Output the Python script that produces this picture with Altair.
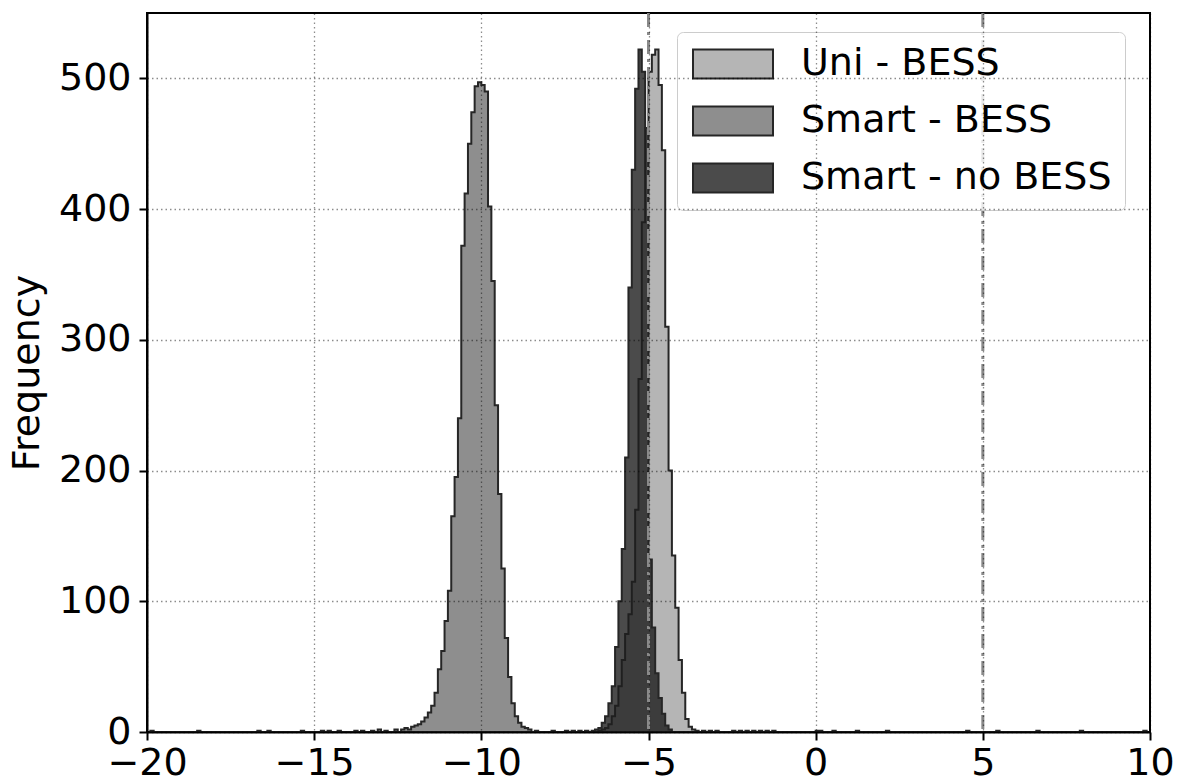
import altair as alt
import pandas as pd

# Histogram bins: 0.1 wide, indexed from the left end of the x range
BIN_WIDTH = 0.1
X_MIN = -20.0

SERIES = ["Uni - BESS", "Smart - BESS", "Smart - no BESS"]
# last series is semi-transparent so the one underneath shows through
FILLS = ["#b5b5b5", "#8e8e8e", "rgba(30,30,30,0.8)"]

# Uni - BESS: main body (first bin edge + counts) and isolated outlier bins
uni_start = -6.5
uni_counts = [1, 2, 3, 6, 12, 20, 35, 55, 75, 90, 115, 170, 270, 390, 462,
              505, 518, 522, 495, 445, 310, 200, 135, 95, 55, 30, 10, 4, 2, 1]
uni_tail_x = [-3.4, -3.2, -3.0, -2.5, -2.3, -2.1, -1.9, -1.7, -1.5, -1.3,
              0.0, 0.1, 0.5, 1.2, 2.1, 4.5, 5.4, 6.6, 7.9, 9.8]
uni_tail_n = [1, 1, 1, 1, 1, 1, 1, 1, 1, 1, 1, 1, 1, 1, 1, 1, 1, 1, 1, 1]

# Smart - BESS
smart_start = -12.4
smart_counts = [2, 3, 2, 4, 5, 6, 8, 11, 15, 20, 30, 48, 62, 85, 108, 165, 195,
                240, 372, 412, 450, 474, 494, 497, 495, 490, 402, 345, 250, 182,
                125, 72, 42, 22, 12, 7, 4, 3, 2]
smart_tail_x = [-19.9, -18.5, -16.7, -16.4, -15.4, -14.8, -14.6, -14.3, -13.8,
                -13.6, -13.3, -13.1, -12.9, -12.6, -8.4, -7.9, -7.5, -7.3, -7.1]
smart_tail_n = [1, 1, 1, 1, 1, 1, 1, 1, 1, 1, 1, 2, 1, 2, 1, 1, 1, 1, 1]

# Smart - no BESS
nobess_start = -6.6
nobess_counts = [2, 3, 7, 12, 22, 35, 65, 100, 140, 210, 340, 430, 492, 522,
                 505, 462, 132, 80, 45, 26, 14, 5, 2]
nobess_tail_x = [-6.9, -6.7]
nobess_tail_n = [1, 1]

# Reference lines
VLINE_X = [-5, 5]


def build(name, start, counts, tail_x, tail_n):
    bins = {}
    k0 = round((start - X_MIN) / BIN_WIDTH)
    for i, c in enumerate(counts):
        bins[k0 + i] = bins.get(k0 + i, 0) + c
    for x, n in zip(tail_x, tail_n):
        k = round((x - X_MIN) / BIN_WIDTH)
        bins[k] = bins.get(k, 0) + n
    lo, hi = min(bins), max(bins)
    rows = [{"series": name, "x": X_MIN + k * BIN_WIDTH, "count": bins.get(k, 0)}
            for k in range(lo, hi + 1)]
    rows.append({"series": name, "x": X_MIN + (hi + 1) * BIN_WIDTH, "count": 0})
    return rows


rows = (build("Uni - BESS", uni_start, uni_counts, uni_tail_x, uni_tail_n)
        + build("Smart - BESS", smart_start, smart_counts, smart_tail_x, smart_tail_n)
        + build("Smart - no BESS", nobess_start, nobess_counts, nobess_tail_x, nobess_tail_n))
df = pd.DataFrame(rows)

FONT = "DejaVu Sans"

x_axis = alt.Axis(
    values=[-20, -15, -10, -5, 0, 5, 10], labelFontSize=38, labelFont=FONT,
    labelColor="black", tickColor="black", tickSize=8, tickWidth=2,
    domainColor="black", domainWidth=2, grid=True, gridColor="black",
    gridOpacity=0.45, gridDash=[1.5, 3], gridWidth=1.3, labelPadding=4,
    labelFlush=False, labelOverlap=False, zindex=1, title=None,
)
y_axis = alt.Axis(
    values=[0, 100, 200, 300, 400, 500], labelFontSize=38, labelFont=FONT,
    labelColor="black", tickColor="black", tickSize=8, tickWidth=2,
    domainColor="black", domainWidth=2, grid=True, gridColor="black",
    gridOpacity=0.45, gridDash=[1.5, 3], gridWidth=1.3, labelPadding=8,
    labelFlush=False, labelOverlap=False, zindex=1, title="Frequency",
    titleFont=FONT, titleFontSize=38, titleFontWeight="normal",
    titleColor="black", titlePadding=12,
)

legend = alt.Legend(
    title=None, orient="none", legendX=530, legendY=19,
    labelFont=FONT, labelFontSize=38, labelColor="black", labelLimit=600,
    symbolType="M-2.5,-0.9L2.5,-0.9L2.5,0.9L-2.5,0.9Z", symbolSize=1024,
    symbolStrokeColor="#262626", symbolStrokeWidth=2, symbolOpacity=1,
    symbolOffset=24, labelOffset=49, rowPadding=19, padding=13,
    fillColor="rgba(255,255,255,0.8)", strokeColor="#cccccc",
    cornerRadius=6,
)

fill_scale = alt.Scale(domain=SERIES, range=FILLS)


def hist_layer(name):
    return alt.Chart(df).transform_filter(alt.datum.series == name).mark_area(
        interpolate="step-after", stroke="#262626", strokeWidth=2, fillOpacity=1,
    ).encode(
        x=alt.X("x:Q", scale=alt.Scale(domain=[-20, 10], nice=False, zero=False),
                axis=x_axis),
        y=alt.Y("count:Q", stack=None,
                scale=alt.Scale(domain=[0, 550], nice=False), axis=y_axis),
        fill=alt.Fill("series:N", scale=fill_scale, legend=legend),
    )


vlines = alt.Chart(pd.DataFrame({"x": VLINE_X})).mark_rule(
    color="#8a8a8a", strokeWidth=3, strokeDash=[14, 5, 3, 5]
).encode(x="x:Q")

chart = alt.layer(
    hist_layer("Uni - BESS"), hist_layer("Smart - BESS"),
    hist_layer("Smart - no BESS"), vlines,
).properties(
    width=1003, height=719,
    autosize=alt.AutoSizeParams(type="none"),
    padding={"left": 147, "top": 13, "right": 35, "bottom": 51},
    background="white",
).configure_view(stroke="black", strokeWidth=2)

chart.save("out.html", embed_options={"renderer": "svg", "actions": False})
